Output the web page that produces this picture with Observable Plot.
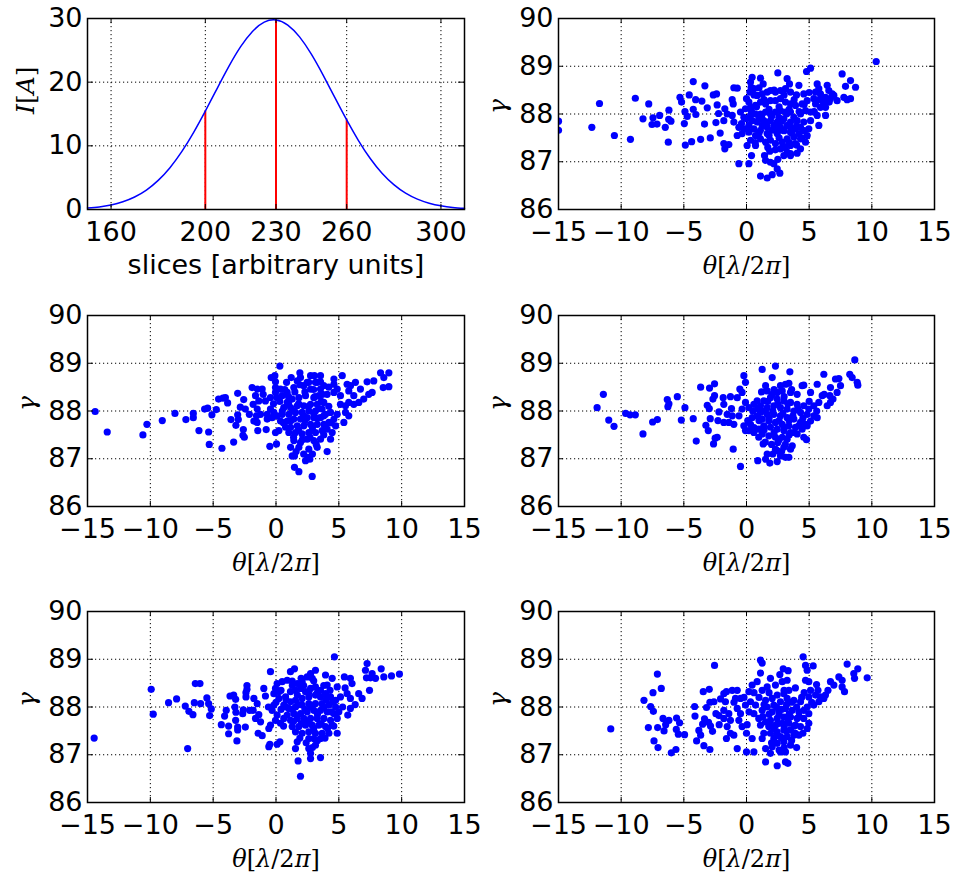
<!DOCTYPE html>
<html><head><meta charset="utf-8">
<script src="https://cdn.jsdelivr.net/npm/d3@7"></script>
<script src="https://cdn.jsdelivr.net/npm/@observablehq/plot@0.6"></script>
<style>
body{margin:0;background:#fff;}
#fig{position:relative;width:956px;height:877px;background:#fff;overflow:hidden;}
#fig svg{position:absolute;overflow:visible;}
</style></head><body><div id="fig"></div>
<script>
// ---- current profile (top-left) ----
const slices = [150,155,160,165,170,175,180,185,190,195,200,205,210,215,220,225,230,235,240,245,250,255,260,265,270,275,280,285,290,295,300,305,310];
const current = [0.23,0.41,0.72,1.21,1.96,3.05,4.57,6.57,9.08,12.08,15.45,19.0,22.48,25.57,27.97,29.43,29.78,28.97,27.11,24.40,21.11,17.57,14.07,10.83,8.01,5.70,3.91,2.57,1.63,0.99,0.58,0.33,0.18];
const cutSlices = [200,230,260];
const cutCurrent = [15.45,29.78,14.07];
const sliceTicks = [160,200,230,260,300];
const currentTicks = [0,10,20,30];
// ---- phase space panels ----
const thetaTicks = [-15,-10,-5,0,5,10,15];
const gammaTicks = [86,87,88,89,90];

const panelA = [[-15.0,87.85],[-15.0,87.66],[-12.34,87.72],[-11.73,88.22],[-10.54,87.55],[-9.26,87.47],[-8.87,88.33],[-8.26,87.90],[-7.80,88.21],[-7.54,87.78],[-7.46,87.92],[-7.14,87.79],[-6.93,87.97],[-6.48,87.72],[-6.24,87.41],[-6.19,88.08],[-6.21,87.89],[-6.03,87.85],[-5.31,88.35],[-5.18,88.25],[-4.96,87.80],[-4.91,88.05],[-4.88,87.35],[-4.73,87.95],[-4.57,88.40],[-4.38,87.42],[-4.25,88.68],[-4.25,88.10],[-4.06,88.30],[-4.04,87.99],[-3.66,87.47],[-3.56,88.27],[-3.32,88.59],[-3.35,87.79],[-3.13,88.13],[-2.89,87.50],[-2.65,88.40],[-2.39,88.42],[-2.34,88.19],[-2.23,88.01],[-2.44,87.82],[-2.10,87.60],
[-1.01,88.55],[-0.74,88.54],[-1.14,88.30],[-1.06,88.21],[-1.73,88.11],[-1.54,88.00],[-1.14,87.97],[-1.81,87.86],[-1.01,87.83],[-0.61,87.72],[-0.74,87.55],[-0.35,87.59],[-1.81,87.38],[-1.41,87.36],[-1.73,87.27],[-0.61,86.96],[0.19,86.96],[0.40,87.13],[1.12,86.70],[1.65,86.66],[2.05,86.73],[2.18,86.96],[2.45,86.85],[2.66,86.76],[1.86,87.22],[1.44,87.13],[2.98,87.13],[3.51,87.17],[4.04,87.18],[0.45,88.77],[0.32,88.67],[1.12,88.75],[1.33,88.63],[2.50,88.86],[0.37,88.56],[0.59,88.53],[0.27,88.46],[0.00,88.32],[0.19,88.25],[0.85,88.39],[1.25,88.42],[1.65,88.46],[1.91,88.49],[2.31,88.46],[2.71,88.49],[3.11,88.53],[3.43,88.63],[3.51,88.46],[3.99,88.40],[4.18,88.60],[4.57,88.42],[4.79,88.89],[5.11,88.96],[5.64,88.63],[5.77,88.53],[6.44,88.60],[6.57,88.49],[6.84,88.42],[6.70,88.32],[7.63,88.84],[8.30,88.70],[7.90,88.58],[8.70,88.56],[7.77,88.35],[8.30,88.32],[8.03,88.30],[7.23,88.28],[10.35,89.10],[6.31,88.35],[6.04,88.28],[5.90,88.14],[6.31,88.14],[6.31,87.97],[5.77,87.76],[5.11,88.04],[5.11,87.86],[4.97,87.69],[4.84,87.55],[4.71,87.41],[4.31,87.48],[3.78,87.52],[3.51,87.62],[3.24,87.48],[2.85,87.41],[2.31,87.38],[1.91,87.45],[1.52,87.41],[1.12,87.48],[0.72,87.55],[0.32,87.45],[0.05,87.34],[0.72,87.34],[3.51,87.34],[3.11,87.31],[2.71,87.27],[4.31,87.72],[4.04,87.86],[3.78,87.93],[3.24,87.76],[2.85,87.66],[2.45,87.59],[2.05,87.66],[1.65,87.72],[1.25,87.76],[0.85,87.83],[0.45,87.86],[0.19,87.76],[-0.21,87.93],[-0.48,88.04],[-0.08,88.11],[0.32,88.14],[0.72,88.18],[1.12,88.25],[1.52,88.21],[1.91,88.28],[2.31,88.28],[2.71,88.32],[3.11,88.25],[3.51,88.21],[3.91,88.18],[4.44,88.21],[4.84,88.28],[5.37,88.32],[5.51,88.21],[4.71,88.07],[4.31,88.00],[3.51,88.04],[3.11,88.04],[2.71,88.07],[2.31,88.04],[1.91,88.00],[1.52,88.04],[1.12,88.00],[0.72,88.00],[0.32,87.97],[0.98,87.90],[1.38,87.86],[1.91,87.86],[2.45,87.83],[2.98,87.90],[3.51,87.83],[2.58,87.93],[2.18,87.76],[2.71,87.72],[3.88,87.69],[4.18,87.59],[4.57,87.83],[3.24,88.74],[5.51,88.46],[5.90,88.42],[6.97,88.39],[6.17,88.21],[5.37,88.04],[5.64,87.97],[1.12,87.66],[0.59,87.69],[-0.21,87.69],[0.19,87.62],[1.65,87.59],[3.51,87.72],[3.88,87.38],[4.31,87.27],[1.91,86.99],[1.52,87.03],[3.24,87.20],[3.51,87.13]];
const coreA = [[0.6,88.4],[1.0,88.55],[1.4,88.3],[1.8,88.1],[2.2,88.5],[2.6,88.15],[3.0,88.4],[3.4,88.1],[3.8,88.3],[4.2,88.05],[4.6,88.2],[0.4,88.05],[0.8,88.15],[1.2,87.95],[1.6,87.8],[2.0,87.95],[2.4,87.7],[2.8,87.85],[3.2,88.0],[3.6,87.6],[4.0,87.75],[4.4,87.5],[1.0,87.6],[1.8,87.55],[2.6,87.5],[3.0,87.65],[3.4,87.4],[4.0,87.35],[2.3,87.25],[2.9,87.3],[0.0,87.9],[-0.4,87.8],[5.0,88.45],[5.4,88.05],[5.8,88.3],[6.6,88.25],[0.7,87.4],[1.7,87.3],[2.5,87.05],[4.6,87.65]];

const panelB = [[-14.39,87.99],[-13.43,87.56],[-10.59,87.50],[-10.27,87.72],[-9.05,87.80],[-8.04,87.95],[-7.17,87.82],[-6.58,87.95],[-6.58,87.86],[-6.13,87.59],[-5.68,88.04],[-5.44,88.06],[-5.36,87.56],[-5.31,87.30],[-5.10,87.92],[-4.75,88.03],[-4.57,88.25],[-4.30,87.22],[-4.22,88.27],[-4.03,88.28],[-3.85,88.17],[-3.58,87.82],[-3.37,87.35],[-3.19,87.70],[-3.05,88.37],[-3.00,87.82],[-3.05,87.92],[-2.84,88.08],[-2.60,87.61],[-2.57,88.24],[-2.52,87.45],[-2.63,87.49],[-2.44,88.04],[-2.12,87.93],
[-1.90,88.49],[-1.50,88.46],[-1.10,88.46],[-1.02,88.35],[-1.63,88.32],[-1.37,88.21],[-0.84,88.21],[-1.82,88.14],[-1.50,88.04],[-1.55,87.90],[-1.23,87.93],[-1.76,87.79],[-1.50,87.76],[-0.70,87.93],[-0.44,88.04],[-0.17,87.97],[-0.70,87.83],[-0.31,87.86],[-0.78,87.61],[-1.45,87.59],[-0.49,87.26],[0.04,87.31],[-0.04,87.55],[0.23,87.59],[0.31,88.94],[-0.38,88.70],[-0.09,88.74],[-0.04,88.61],[-0.04,88.49],[-0.04,88.39],[0.09,88.28],[0.36,88.46],[0.49,88.32],[0.89,88.39],[1.21,88.70],[1.90,88.80],[1.95,88.70],[2.75,88.74],[3.06,88.74],[3.54,88.74],[2.48,88.60],[3.14,88.60],[3.54,88.61],[1.69,88.63],[2.21,88.53],[1.42,88.49],[2.75,88.46],[3.54,88.46],[3.80,88.53],[3.41,88.32],[3.01,88.28],[2.35,88.32],[1.82,88.28],[1.29,88.25],[0.89,88.18],[0.62,88.07],[1.16,88.07],[1.69,88.11],[2.21,88.11],[2.75,88.14],[3.28,88.14],[3.80,88.18],[3.67,88.04],[3.14,88.00],[2.61,88.00],[2.08,87.97],[1.55,87.97],[1.02,87.93],[0.49,87.93],[0.09,87.90],[0.36,87.79],[0.89,87.79],[1.42,87.83],[1.95,87.83],[2.48,87.86],[3.01,87.86],[3.54,87.86],[3.94,87.93],[4.34,87.97],[4.87,87.93],[4.61,87.83],[4.21,87.76],[3.81,87.72],[3.28,87.72],[2.75,87.72],[2.21,87.69],[1.69,87.69],[1.16,87.66],[0.76,87.66],[1.02,87.55],[1.55,87.55],[2.08,87.52],[2.61,87.55],[3.14,87.55],[3.67,87.59],[4.07,87.62],[4.47,87.55],[4.74,87.69],[3.54,87.41],[3.01,87.38],[2.48,87.41],[1.95,87.34],[1.42,87.38],[1.16,87.24],[1.82,87.24],[2.61,87.20],[3.28,87.24],[4.34,87.41],[4.07,87.15],[1.29,87.06],[1.47,87.06],[2.54,87.03],[2.35,86.96],[2.69,86.99],[1.47,86.82],[1.82,86.73],[2.88,86.63],[5.27,88.74],[4.61,88.67],[4.61,88.56],[5.13,88.32],[5.66,88.56],[5.93,88.53],[6.32,88.60],[5.79,88.42],[6.19,88.32],[6.72,88.46],[7.25,88.61],[7.78,88.63],[7.38,88.35],[6.98,88.25],[6.59,88.18],[6.19,88.14],[5.79,88.18],[5.53,88.11],[5.13,88.14],[5.53,87.97],[5.79,87.90],[5.40,87.76],[8.32,88.80],[8.98,88.80],[8.58,88.70],[8.53,88.49],[8.98,88.51],[7.65,88.39],[4.87,88.46],[4.61,88.39],[4.07,88.35],[-0.44,88.28],[0.84,88.60]];
const coreB = [[0.3,88.2],[0.7,88.45],[1.0,88.3],[1.5,88.4],[1.9,88.55],[2.3,88.4],[2.6,88.6],[3.0,88.45],[3.3,88.6],[3.7,88.35],[0.5,88.0],[1.0,88.15],[1.4,88.0],[1.8,88.15],[2.2,87.9],[2.6,88.1],[3.0,87.95],[3.4,88.05],[3.8,87.9],[4.2,88.1],[0.6,87.75],[1.2,87.8],[1.8,87.6],[2.3,87.8],[2.9,87.65],[3.3,87.85],[3.9,87.65],[4.4,87.75],[1.4,87.45],[2.1,87.4],[2.7,87.45],[3.2,87.3],[3.8,87.5],[1.6,87.15],[2.2,87.1],[2.9,87.1],[3.1,88.3],[3.6,88.2],[4.2,88.5],[-0.2,88.15]];

const panelC = [[-11.92,88.07],[-11.42,88.35],[-10.99,87.81],[-10.57,87.68],[-9.64,87.95],[-9.29,87.92],[-8.87,87.92],[-8.26,87.52],[-7.49,87.77],[-7.11,87.82],[-6.32,88.24],[-6.19,88.15],[-6.27,88.09],[-5.52,88.30],[-5.20,87.81],[-4.91,88.07],[-4.25,87.84],[-4.01,87.37],[-3.66,88.50],[-3.24,87.70],[-3.05,87.59],[-3.13,88.12],[-2.97,88.05],[-2.95,88.48],[-2.89,87.84],[-2.63,87.31],[-2.55,88.57],[-2.50,87.43],[-2.34,87.45],[-2.68,88.25],[-2.55,88.32],[-2.28,87.80],[-2.20,87.98],
[-1.86,88.28],[-1.28,88.30],[-1.81,88.14],[-1.54,87.93],[-1.14,87.90],[-1.81,87.76],[-1.41,87.76],[-1.01,87.72],[-1.06,87.20],[-0.48,86.84],[-0.21,88.74],[-0.08,88.60],[-0.53,88.46],[-0.35,88.39],[-0.74,88.28],[-0.08,88.18],[-0.35,88.04],[0.19,88.07],[-0.21,87.69],[-0.08,87.59],[0.19,87.59],[0.32,87.72],[0.59,88.14],[0.85,88.21],[0.85,87.90],[0.45,87.86],[1.12,87.97],[1.25,88.87],[2.05,88.70],[2.31,88.94],[3.46,88.82],[2.71,88.53],[3.11,88.56],[3.38,88.58],[1.52,88.53],[1.65,88.42],[2.05,88.35],[2.45,88.39],[2.85,88.42],[3.51,88.39],[4.04,88.35],[4.44,88.53],[4.57,88.54],[5.11,88.39],[5.64,88.56],[6.17,88.77],[6.04,88.32],[6.70,88.49],[7.10,88.67],[7.37,88.68],[8.24,88.77],[8.43,88.70],[8.83,88.60],[8.88,88.54],[8.64,89.07],[7.50,88.53],[7.23,88.39],[6.65,88.32],[6.70,88.18],[6.44,88.11],[5.77,88.18],[5.37,88.11],[4.97,88.04],[4.57,88.11],[4.04,88.14],[3.51,88.18],[2.98,88.21],[2.45,88.25],[1.91,88.28],[1.38,88.21],[1.12,88.11],[1.65,88.07],[2.18,88.11],[2.71,88.07],[3.24,88.04],[3.78,88.00],[4.31,87.97],[4.84,87.93],[5.37,87.90],[5.64,87.86],[5.11,87.79],[4.71,87.72],[4.31,87.76],[3.78,87.83],[3.24,87.86],[2.71,87.90],[2.18,87.93],[1.65,87.93],[1.25,87.83],[1.78,87.79],[2.31,87.76],[2.85,87.72],[3.38,87.69],[3.91,87.66],[4.44,87.62],[4.84,87.69],[4.04,87.52],[4.57,87.45],[4.79,87.40],[3.51,87.55],[2.98,87.59],[2.45,87.62],[1.91,87.66],[1.38,87.69],[0.98,87.62],[1.25,87.52],[1.78,87.48],[2.31,87.45],[2.85,87.45],[3.24,87.41],[2.50,87.34],[2.98,87.24],[3.51,87.20],[3.65,87.27],[2.45,87.17],[2.31,87.20],[1.65,87.10],[2.71,87.06],[3.11,87.03],[3.38,87.03],[1.52,86.99],[1.86,86.91],[2.45,86.94],[0.90,86.96],[1.33,87.31],[0.98,87.45],[0.59,87.55]];
const coreC = [[0.5,88.0],[0.9,88.05],[1.3,88.0],[1.7,88.2],[2.1,88.0],[2.5,88.15],[2.9,87.95],[3.3,88.15],[3.7,87.9],[4.1,88.05],[4.5,87.85],[1.0,87.8],[1.4,87.6],[1.8,87.85],[2.2,87.55],[2.6,87.8],[3.0,87.65],[3.4,87.8],[3.8,87.55],[4.2,87.7],[1.5,87.35],[2.0,87.3],[2.6,87.4],[3.1,87.3],[3.4,87.5],[2.1,87.1],[2.8,87.15],[1.2,88.4],[2.2,88.45],[3.0,88.3],[3.6,88.45],[0.1,87.8],[0.6,87.65],[-0.6,87.9],[-1.2,88.05],[5.0,88.2],[5.6,88.0],[6.2,88.35],[6.9,88.25]];

const panelD = [[-14.47,87.35],[-9.93,88.37],[-9.77,87.85],[-8.55,88.09],[-7.91,88.17],[-7.22,88.02],[-7.03,87.13],[-6.93,87.91],[-6.61,87.84],[-6.50,88.09],[-6.42,88.49],[-6.05,88.49],[-6.00,88.07],[-5.50,88.19],[-5.36,88.07],[-5.28,87.82],[-5.15,87.96],[-4.35,87.63],[-4.09,87.81],[-3.96,87.93],[-3.77,87.60],[-3.77,87.44],[-3.66,88.23],[-3.37,88.25],[-3.21,88.16],[-3.27,88.00],[-3.19,87.89],[-3.21,87.72],[-3.05,87.58],[-3.05,87.52],[-3.11,87.29],[-2.65,87.86],[-2.60,87.94],[-2.44,87.58],[-2.39,88.21],[-2.31,88.45],[-2.31,88.37],[-2.39,88.30],[-2.10,87.93],
[-1.76,88.18],[-1.50,88.07],[-1.82,87.93],[-1.37,87.84],[-1.63,87.76],[-1.23,87.69],[-1.42,87.45],[-1.10,87.40],[-0.97,88.39],[-0.84,88.23],[-0.57,87.55],[-0.44,87.62],[-0.49,87.22],[-0.57,87.17],[0.09,87.22],[0.31,87.27],[-0.44,88.74],[1.15,88.74],[1.47,88.80],[-0.04,88.39],[0.09,88.49],[-0.17,88.28],[0.23,88.18],[-0.17,88.04],[-0.31,87.93],[0.09,87.83],[-0.04,87.72],[0.36,87.66],[0.62,87.76],[0.49,88.53],[0.89,88.56],[1.29,88.54],[1.69,88.49],[2.08,88.53],[2.48,88.63],[2.75,88.70],[3.14,88.77],[2.88,88.60],[3.94,88.67],[4.65,89.05],[4.47,88.60],[4.87,88.42],[5.44,88.63],[5.92,88.60],[6.05,88.49],[5.66,88.28],[5.92,88.18],[6.58,88.28],[6.85,88.18],[5.92,87.97],[5.71,87.83],[7.44,88.35],[7.12,88.77],[7.25,88.91],[7.20,88.61],[7.65,88.70],[7.52,88.61],[7.92,88.60],[8.37,88.80],[8.58,88.63],[9.19,88.65],[9.82,88.69],[0.76,88.21],[1.15,88.32],[1.55,88.35],[1.95,88.39],[2.35,88.32],[2.75,88.39],[3.14,88.42],[3.54,88.35],[4.07,88.46],[3.94,88.28],[4.34,88.21],[4.74,88.14],[5.13,88.21],[3.54,88.21],[3.14,88.25],[2.61,88.21],[2.08,88.18],[1.55,88.14],[1.16,88.11],[0.62,88.04],[1.02,87.97],[1.55,88.00],[2.08,88.04],[2.61,88.07],[3.14,88.07],[3.67,88.07],[4.21,88.04],[4.74,88.00],[5.00,87.90],[4.61,87.86],[4.07,87.90],[3.54,87.93],[3.01,87.93],[2.48,87.90],[1.95,87.86],[1.42,87.86],[0.89,87.83],[1.16,87.72],[1.69,87.76],[2.21,87.76],[2.75,87.76],[3.28,87.76],[3.81,87.76],[4.34,87.72],[4.87,87.76],[4.47,87.62],[3.94,87.59],[3.41,87.62],[2.88,87.62],[2.35,87.62],[1.82,87.59],[1.29,87.59],[1.55,87.48],[2.08,87.45],[2.61,87.48],[3.14,87.45],[3.67,87.45],[4.21,87.45],[4.87,87.45],[3.01,87.34],[3.54,87.34],[2.61,87.34],[3.14,87.20],[2.61,87.13],[2.75,87.03],[2.75,86.92],[3.54,86.94],[1.76,86.87],[1.95,86.55],[1.55,87.13],[1.69,87.27],[0.23,88.32]];
const coreD = [[0.4,88.35],[0.8,88.15],[1.3,88.45],[1.7,88.25],[2.2,88.45],[2.6,88.3],[3.0,88.55],[3.3,88.3],[3.8,88.45],[4.3,88.35],[0.4,87.95],[0.8,88.0],[1.3,87.95],[1.8,88.05],[2.3,87.95],[2.8,88.0],[3.3,87.85],[3.8,88.0],[4.4,87.9],[0.6,87.6],[1.4,87.7],[2.0,87.65],[2.5,87.7],[3.0,87.55],[3.6,87.65],[4.1,87.55],[4.6,87.6],[1.9,87.35],[2.4,87.25],[3.3,87.3],[3.9,87.35],[2.9,87.15],[4.5,88.1],[5.3,88.0],[5.5,88.4],[6.3,88.05],[-0.6,88.0],[0.0,88.1],[2.0,88.6],[4.0,88.15]];

const panelE = [[-10.83,87.54],[-8.18,88.14],[-7.83,87.57],[-7.65,88.01],[-7.46,88.30],[-7.43,87.91],[-7.38,87.29],[-7.11,88.69],[-7.09,87.57],[-7.06,87.15],[-6.80,88.39],[-6.66,87.76],[-6.58,87.50],[-6.45,87.63],[-6.19,87.72],[-6.00,87.04],[-5.63,87.11],[-5.58,87.77],[-5.60,87.53],[-5.44,87.43],[-5.34,87.67],[-4.94,87.42],[-4.14,88.01],[-4.11,87.81],[-3.98,87.29],[-3.80,87.51],[-3.66,87.41],[-3.50,87.64],[-3.45,88.32],[-3.40,87.19],[-3.35,87.75],[-3.19,87.99],[-3.03,87.68],[-2.97,88.37],[-2.92,87.11],[-2.92,88.10],[-2.87,87.60],[-2.71,87.49],[-2.60,88.11],[-2.55,88.87],[-2.44,87.86],[-2.20,87.82],[-2.18,87.63],[-2.07,88.17],
[-1.81,88.28],[-1.60,88.32],[-1.68,88.11],[-1.81,87.93],[-1.41,87.86],[-1.81,87.76],[-1.28,87.72],[-1.54,87.59],[-1.28,87.45],[-1.01,87.41],[-1.60,87.34],[-1.14,88.35],[-0.74,88.35],[-0.88,88.18],[-0.48,88.18],[-0.74,87.97],[-0.48,87.86],[-0.61,87.72],[-0.35,87.59],[0.05,87.63],[0.00,87.45],[-0.74,87.13],[0.00,87.06],[0.45,87.34],[0.59,87.06],[1.12,88.98],[1.25,88.92],[1.12,88.71],[0.85,88.53],[0.45,88.46],[0.19,88.32],[0.32,88.11],[-0.08,88.04],[0.72,88.04],[0.59,87.86],[0.98,87.76],[1.25,87.93],[1.52,88.14],[1.25,88.35],[1.65,88.42],[1.91,88.60],[2.31,88.46],[2.66,88.68],[2.93,88.80],[3.32,88.76],[2.85,88.53],[3.24,88.56],[3.38,88.35],[2.98,88.28],[2.45,88.25],[2.05,88.18],[4.52,89.05],[4.71,88.87],[4.84,88.77],[5.32,88.86],[4.71,88.56],[4.97,88.53],[5.59,88.47],[5.11,88.35],[4.97,88.21],[5.51,88.25],[5.90,88.21],[6.30,88.25],[6.70,88.53],[6.97,88.46],[7.37,88.63],[7.63,88.56],[7.63,88.42],[7.82,88.32],[8.03,88.90],[8.56,88.70],[8.62,88.60],[8.88,88.80],[9.63,88.61],[6.17,88.18],[5.77,88.11],[5.37,88.04],[4.84,88.00],[4.31,88.11],[3.78,88.14],[3.24,88.18],[2.71,88.11],[2.18,88.04],[1.65,88.00],[2.05,87.90],[2.58,87.93],[3.11,87.97],[3.64,87.93],[4.18,87.90],[4.57,87.93],[4.97,87.86],[4.57,87.76],[4.04,87.76],[3.51,87.79],[2.98,87.79],[2.45,87.76],[1.91,87.72],[1.52,87.69],[1.12,87.62],[1.78,87.59],[2.31,87.62],[2.85,87.66],[3.38,87.66],[3.91,87.62],[4.31,87.59],[4.84,87.55],[4.97,87.66],[3.51,87.52],[2.98,87.52],[2.45,87.48],[1.91,87.45],[1.38,87.45],[2.18,87.34],[2.71,87.38],[3.24,87.38],[3.78,87.41],[2.98,87.27],[2.45,87.24],[3.51,87.20],[2.05,87.17],[1.25,87.34],[1.52,87.13],[1.91,87.03],[2.71,87.06],[3.11,87.06],[1.52,86.85],[2.45,86.77],[3.11,86.85],[3.30,86.82],[4.18,87.41]];
const coreE = [[1.8,87.85],[2.2,87.55],[2.6,87.85],[3.0,87.6],[3.4,87.85],[3.8,87.6],[4.2,87.8],[2.0,87.25],[2.4,87.4],[2.8,87.35],[3.2,87.5],[3.6,87.3],[2.6,87.1],[3.0,87.15],[2.4,88.0],[2.8,87.95],[3.2,88.05],[3.6,88.1],[4.0,88.0],[4.4,88.2],[1.4,88.05],[1.0,88.2],[0.6,88.3],[1.8,88.3],[3.0,88.35],[3.9,88.4],[4.6,88.3],[5.2,88.1],[5.7,88.35],[6.5,88.35],[-0.2,88.2],[-1.0,88.1],[0.2,87.9],[1.3,87.8],[1.9,87.6],[2.5,87.65],[3.3,87.7],[3.9,87.45],[4.5,87.45],[4.0,87.15]];

// ---- layout helpers ----
const fig = document.getElementById("fig");
const FW = 376, FH = 191; // frame size (styling only)
const TICK_FONT = 27;

function chrome(xTicks, yTicks) {
  const dots = {stroke: "black", strokeOpacity: 1, strokeWidth: 1, strokeDasharray: "1.2,2.8"};
  return {
    grid: [Plot.gridX(xTicks, dots), Plot.gridY(yTicks, dots)],
    axes: [
      Plot.tickX(xTicks, {x: d => d, stroke: "black", strokeWidth: 1, insetTop: FH - 5}),
      Plot.tickX(xTicks, {x: d => d, stroke: "black", strokeWidth: 1, insetBottom: FH - 5}),
      Plot.tickY(yTicks, {y: d => d, stroke: "black", strokeWidth: 1, insetRight: FW - 5}),
      Plot.tickY(yTicks, {y: d => d, stroke: "black", strokeWidth: 1, insetLeft: FW - 5}),
      Plot.axisX(xTicks, {tickSize: 0, tickPadding: 12, label: null, fill: "black", fontSize: TICK_FONT}),
      Plot.axisY(yTicks, {tickSize: 0, tickPadding: 5, label: null, fill: "black", fontSize: TICK_FONT}),
      Plot.frame({stroke: "black", strokeWidth: 1.5})
    ]
  };
}

function place(svg, left, top) {
  svg.style.left = left + "px";
  svg.style.top = top + "px";
  fig.appendChild(svg);
}

function mathify(svg, str, parts) {
  d3.select(svg).selectAll("text").filter(function() { return this.textContent === str; })
    .each(function() {
      const t = d3.select(this);
      t.text("");
      parts.forEach(([s, it]) => t.append("tspan").attr("font-style", it ? "italic" : "normal").text(s));
    });
}

const thetaLabel = "θ[λ/2π]";
const thetaParts = [["θ", true], ["[", false], ["λ", true], ["/2", false], ["π", true], ["]", false]];

const common = {
  style: {fontFamily: "DejaVu Sans", fontSize: "27px", background: "transparent", color: "black", overflow: "visible"}
};

// ---- top-left: current profile ----
{
  const c = chrome(sliceTicks, currentTicks);
  const prof = slices.map((s, i) => ({s, I: current[i]}));
  const cuts = cutSlices.map((s, i) => ({s, I: cutCurrent[i]}));
  const svg = Plot.plot({
    ...common,
    width: 478, height: 290, marginLeft: 87, marginRight: 14, marginTop: 18, marginBottom: 81,
    x: {domain: [150, 310]},
    y: {domain: [0, 30]},
    marks: [
      ...c.grid,
      Plot.ruleX(cuts, {x: "s", y1: 0, y2: "I", stroke: "#ff0000", strokeWidth: 2}),
      Plot.line(prof, {x: "s", y: "I", stroke: "#0000ff", strokeWidth: 1.5, curve: "natural"}),
      ...c.axes,
      Plot.text(["slices [arbitrary units]"], {frameAnchor: "bottom", dy: 56, lineAnchor: "middle", fontSize: 27, fill: "black"}),
      Plot.text(["I[A]"], {frameAnchor: "left", dx: -62, rotate: -90, lineAnchor: "middle", fontSize: 25, fontFamily: "DejaVu Serif", fill: "black"})
    ]
  });
  mathify(svg, "I[A]", [["I", true], ["[", false], ["A", true], ["]", false]]);
  place(svg, 0, 0);
}

// ---- scatter panels ----
function scatter(data, left, top, height, marginTop, marginBottom, marginLeft, marginRight) {
  const c = chrome(thetaTicks, gammaTicks);
  const pts = data.map(([theta, gamma]) => ({theta, gamma}));
  const svg = Plot.plot({
    ...common,
    width: 478, height, marginLeft, marginRight, marginTop, marginBottom,
    x: {domain: [-15, 15]},
    y: {domain: [86, 90]},
    marks: [
      ...c.grid,
      Plot.dot(pts, {x: "theta", y: "gamma", r: 3.6, fill: "#0000ff", stroke: "none", clip: true}),
      ...c.axes,
      Plot.text([thetaLabel], {frameAnchor: "bottom", dy: 57, lineAnchor: "middle", fontSize: 24, fontFamily: "DejaVu Serif", fill: "black"}),
      Plot.text(["γ"], {frameAnchor: "left", dx: -61, rotate: -90, lineAnchor: "middle", fontSize: 25, fontFamily: "DejaVu Serif", fontStyle: "italic", fill: "black"})
    ]
  });
  mathify(svg, thetaLabel, thetaParts);
  place(svg, left, top);
}

scatter(panelA.concat(coreA), 478, 0, 290, 18, 81, 80, 22);
scatter(panelB.concat(coreB), 0, 295, 290, 20, 79, 87, 14);
scatter(panelC.concat(coreC), 478, 295, 290, 20, 79, 80, 22);
scatter(panelD.concat(coreD), 0, 591, 286, 20, 75, 87, 14);
scatter(panelE.concat(coreE), 478, 591, 286, 20, 75, 80, 22);
</script>
</body></html>
